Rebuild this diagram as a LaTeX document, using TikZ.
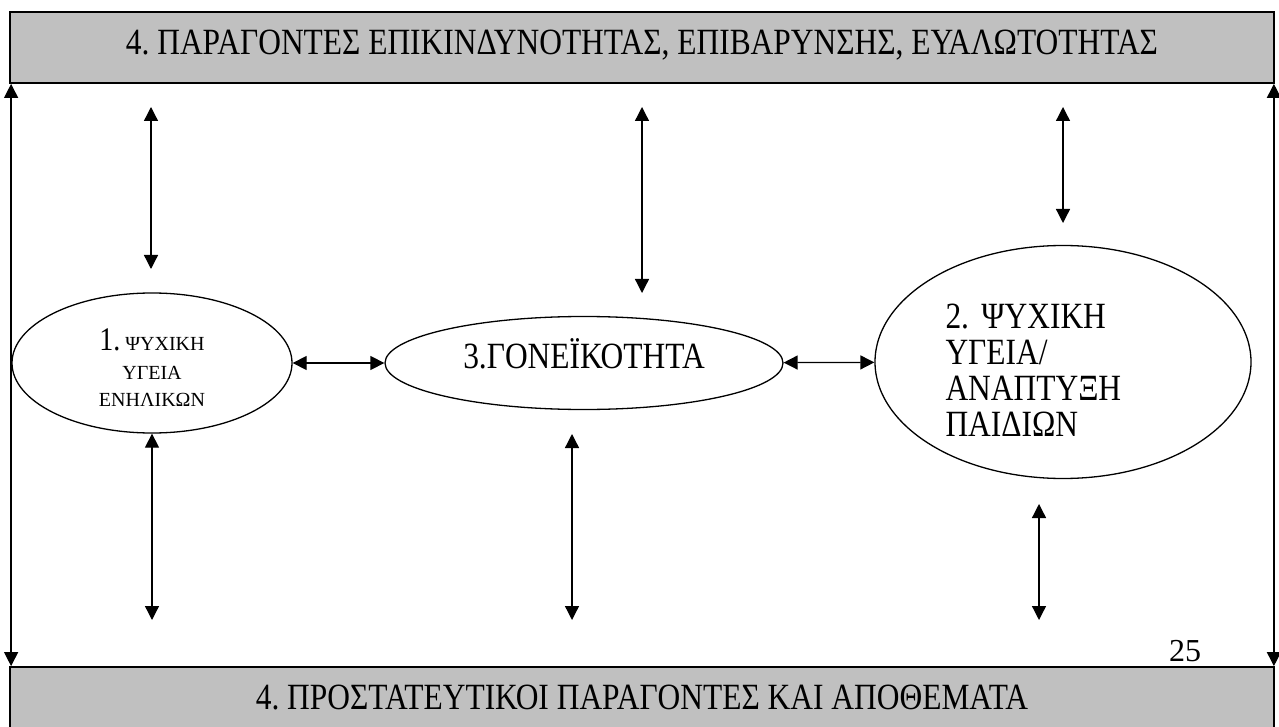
\documentclass[tikz,border=0pt]{standalone}
\usepackage{fontspec}
\setmainfont{Liberation Serif}[FakeStretch=0.85]
\newfontfamily\plainserif{Liberation Serif}
\usepackage{tikz}
\usetikzlibrary{
  arrows.meta,
  shapes.geometric,
  positioning
}
\frenchspacing
\definecolor{bandGray}{HTML}{C0C0C0}
\newcommand{\bigtxt}{\fontsize{37}{36}\selectfont}
\newcommand{\smalltxt}{\plainserif\fontsize{20}{25}\selectfont}
\tikzset{
  band/.style={
    draw, fill=bandGray, line width=1.8pt, minimum width=1264pt,
    inner sep=0pt, font=\bigtxt
  },
  oval/.style={draw, ellipse, line width=1.3pt, inner sep=0pt},
  link/.style={{Triangle[length=14pt,width=14pt]}-{Triangle[length=14pt,width=14pt]}, line width=1.3pt}
}

\begin{document}
\begin{tikzpicture}[x=1pt,y=-1pt]
  \useasboundingbox (0,0) rectangle (1279,727);
  % bands
  \node[band, minimum height=71pt, text height=24pt, text depth=10pt] (risk) at (642,47.5)
    {4. ΠΑΡΑΓΟΝΤΕΣ ΕΠΙΚΙΝΔΥΝΟΤΗΤΑΣ, ΕΠΙΒΑΡΥΝΣΗΣ, ΕΥΑΛΩΤΟΤΗΤΑΣ};
  \node[band, minimum height=66pt, text height=24pt, text depth=6pt] (protect) at (642,700)
    {4. ΠΡΟΣΤΑΤΕΥΤΙΚΟΙ ΠΑΡΑΓΟΝΤΕΣ ΚΑΙ ΑΠΟΘΕΜΑΤΑ};
  % ovals
  \node[oval, minimum width=280pt, minimum height=140pt, align=center, font=\smalltxt] (adult) at (152,363)
    {\rule{0pt}{30pt}{\normalfont\fontsize{33}{25}\selectfont 1.} ΨΥΧΙΚΗ\\[4pt]ΥΓΕΙΑ\\[2pt]ΕΝΗΛΙΚΩΝ};
  \node[oval, minimum width=398pt, minimum height=93pt, font=\bigtxt, text height=24pt, text depth=14pt] (parent) at (584,363)
    {3.ΓΟΝΕΪΚΟΤΗΤΑ};
  \node[oval, minimum width=376pt, minimum height=233pt, font=\bigtxt, text width=235pt, align=left] (child) at (1063,362)
    {\rule{0pt}{40pt}2. ΨΥΧΙΚΗ\\ΥΓΕΙΑ/\\ΑΝΑΠΤΥΞΗ\\ΠΑΙΔΙΩΝ};
  \node[font=\plainserif\fontsize{32}{32}\selectfont] (pagenum) at (1185,651) {25};
  % free arrow ends
  \coordinate (up1a) at (151,107);  \coordinate (up1b) at (151,269);
  \coordinate (up3a) at (642,107);  \coordinate (up3b) at (642,293);
  \coordinate (up2a) at (1063,107); \coordinate (up2b) at (1063,223);
  \coordinate (lo1b) at (152,620);
  \coordinate (lo3a) at (572,434);  \coordinate (lo3b) at (572,620);
  \coordinate (lo2a) at (1039,504); \coordinate (lo2b) at (1039,620);
  % links
  \draw[link] (adult) -- (parent);
  \draw[link] (parent) -- (child);
  \draw[link] ([xshift=2pt]risk.south west) -- ([xshift=2pt]protect.north west);
  \draw[link] ([xshift=-1pt]risk.south east) -- ([xshift=-1pt]protect.north east);
  \draw[link] (up1a) -- (up1b); \draw[link] (up3a) -- (up3b); \draw[link] (up2a) -- (up2b);
  \draw[link] (adult.south) -- (lo1b); \draw[link] (lo3a) -- (lo3b); \draw[link] (lo2a) -- (lo2b);
\end{tikzpicture}
\end{document}
